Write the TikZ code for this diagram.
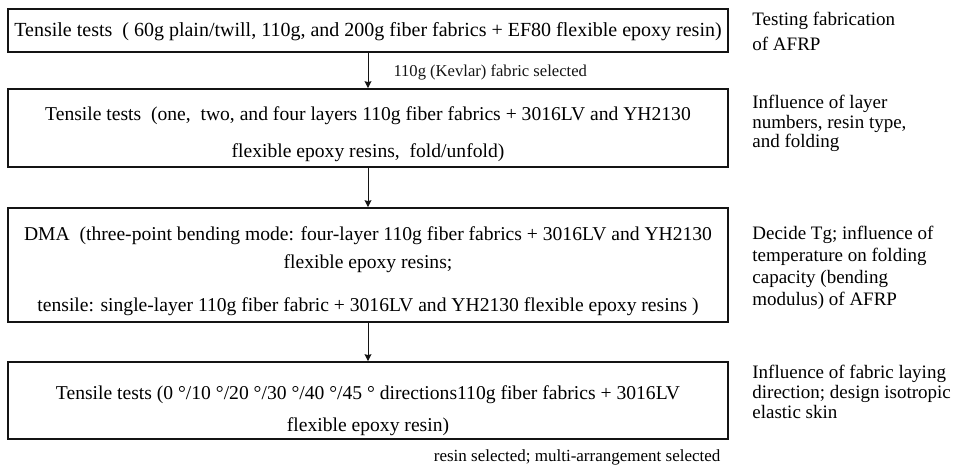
\documentclass[tikz,border=0pt]{standalone}
\usepackage{fontspec}
\setmainfont{Liberation Serif}
\usepackage{tikz}
\usetikzlibrary{arrows.meta, positioning}
\definecolor{mydark}{RGB}{20,20,20}
\newcommand{\topgap}[1]{\rule{0pt}{#1}}
\tikzset{
  stagebox/.style={rectangle, draw=mydark, line width=0.75pt,
    minimum width=360pt, align=center, inner sep=0pt,
    font=\fontsize{9.8pt}{11pt}\selectfont},
  note/.style={align=left, inner sep=0pt, anchor=north west,
    font=\fontsize{9.5pt}{9.5pt}\selectfont},
  sel/.style={inner sep=0pt, font=\fontsize{8.3pt}{9pt}\selectfont},
  arrow/.style={-{Stealth[length=3.5pt, width=3.4pt, inset=0.4pt]}, line width=0.5pt, color=mydark}
}
\begin{document}
\begin{tikzpicture}[x=0.5pt, y=-0.5pt]
  \useasboundingbox (0,0) rectangle (955,469);
  % stages
  \node[stagebox, minimum height=21.5pt, font=\fontsize{10pt}{11pt}\selectfont] (b1) at (368,30.5)
    {\topgap{8pt}Tensile tests\enspace( 60g plain/twill, 110g, and 200g fiber fabrics + EF80 flexible epoxy resin)};
  \node[stagebox, minimum height=39pt] (b2) at (368,128)
    {\topgap{13pt}Tensile tests\enspace(one,\enspace two, and four layers 110g fiber fabrics + 3016LV and YH2130\\[7.75pt]
     flexible epoxy resins,\enspace fold/unfold)};
  \node[stagebox, minimum height=57pt] (b3) at (368,265)
    {\topgap{13pt}DMA\enspace(three-point bending mode: four-layer 110g fiber fabrics + 3016LV and YH2130\\[3pt]
     flexible epoxy resins;\\[10.5pt]
     tensile: single-layer 110g fiber fabric + 3016LV and YH2130 flexible epoxy resins )};
  \node[stagebox, minimum height=38.5pt] (b4) at (368,400.5)
    {\topgap{17pt}Tensile tests (0 \textdegree/10 \textdegree/20 \textdegree/30 \textdegree/40 \textdegree/45 \textdegree\ directions110g fiber fabrics + 3016LV\\[5pt]
     flexible epoxy resin)};
  % aims
  \node[note, font=\fontsize{9.5pt}{12.5pt}\selectfont] (a1) at (752,12)
    {Testing fabrication\\of AFRP};
  \node[note, font=\fontsize{9.5pt}{9.8pt}\selectfont] (a2) at (752,95)
    {Influence of layer\\numbers, resin type,\\and folding};
  \node[note, font=\fontsize{9.5pt}{11pt}\selectfont] (a3) at (752,226)
    {Decide Tg; influence of\\temperature on folding\\capacity (bending\\modulus) of AFRP};
  \node[note, font=\fontsize{9.5pt}{10pt}\selectfont] (a4) at (752,365)
    {Influence of fabric laying\\direction; design isotropic\\elastic skin};
  % flow
  \draw[arrow] (b1) -- node[sel, right=12.5pt, yshift=-1pt] {110g (Kevlar) fabric selected} (b2);
  \draw[arrow] (b2) -- (b3);
  \draw[arrow] (b3) -- (b4);
  \node[sel, anchor=base east, font=\fontsize{8.5pt}{9pt}\selectfont] (s4) at ([xshift=-4pt, yshift=-11pt]b4.south east)
    {resin selected; multi-arrangement selected};
\end{tikzpicture}
\end{document}
